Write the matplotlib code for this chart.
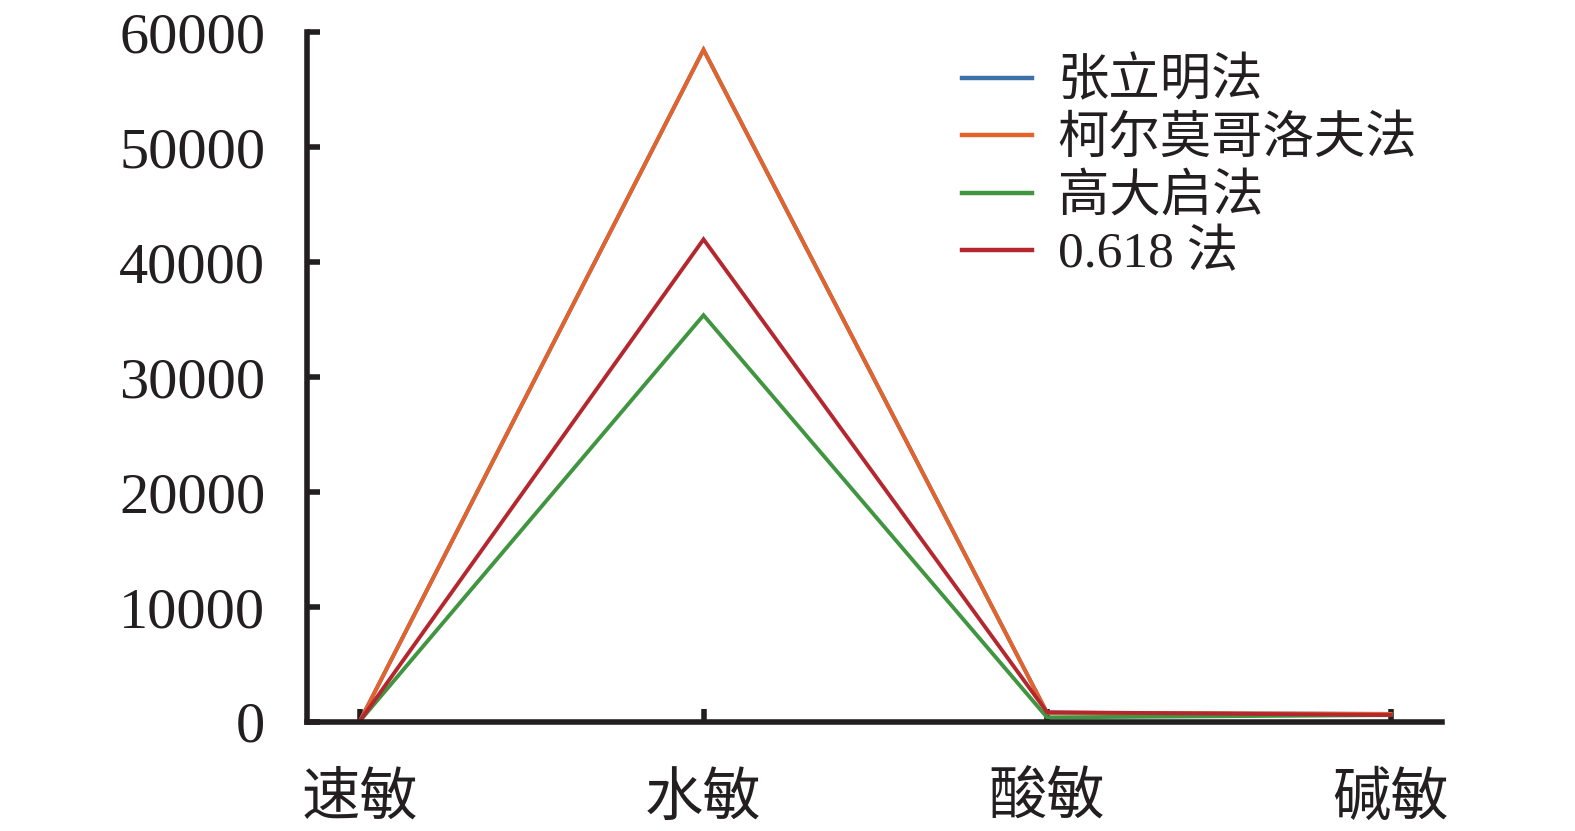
import matplotlib
matplotlib.use("Agg")
import matplotlib.pyplot as plt

plt.rcParams['font.family'] = ['Liberation Serif', 'Noto Sans CJK SC', 'DejaVu Sans']

categories = ['速敏', '水敏', '酸敏', '碱敏']
series_names = ['张立明法', '柯尔莫哥洛夫法', '高大启法', '0.618 法']
zhang = [100, 58500, 800, 700]
kolmogorov = [100, 58500, 800, 700]
gao = [100, 35400, 400, 600]
golden = [100, 42000, 850, 600]
colors = ['#3D6FA8', '#E4632B', '#3F9540', '#B5272F']
yticks = [0, 10000, 20000, 30000, 40000, 50000, 60000]

fig = plt.figure(figsize=(15.75, 8.31), dpi=100)
ax = fig.add_axes([0.195, 0.1312, 0.7206, 0.8297])

x = list(range(len(categories)))
for vals, name, c in zip([zhang, kolmogorov, gao, golden], series_names, colors):
    ax.plot(x, vals, color=c, lw=2.8, label=name, solid_joinstyle='miter')

ax.set_xlim(-0.154, 3.15)
ax.set_ylim(0, 60000)
ax.set_xticks(x)
ax.set_xticklabels(categories, fontsize=42, family=['Noto Sans CJK SC'])
ax.set_yticks(yticks)
ax.set_yticklabels([str(v) for v in yticks], fontsize=42)

for s in ['top', 'right']:
    ax.spines[s].set_visible(False)
for s in ['left', 'bottom']:
    ax.spines[s].set_linewidth(4)
    ax.spines[s].set_color('#231F20')
ax.tick_params(axis='both', direction='in', length=9.5, width=4, color='#231F20', labelcolor='#231F20')
ax.tick_params(axis='y', pad=30)
ax.tick_params(axis='x', pad=33)

leg = ax.legend(loc='upper left', bbox_to_anchor=(962/1575, 1 - 58/831), bbox_transform=fig.transFigure,
                frameon=False, borderpad=0, handlelength=1.37, handletextpad=0.49, labelspacing=0.19,
                prop={'family': ['Liberation Serif', 'Noto Sans CJK SC'], 'size': 37}, borderaxespad=0)
for h in leg.get_lines():
    h.set_linewidth(3.2)
for t in leg.get_texts():
    t.set_color('#231F20')

fig.savefig('out.png', dpi=100)
